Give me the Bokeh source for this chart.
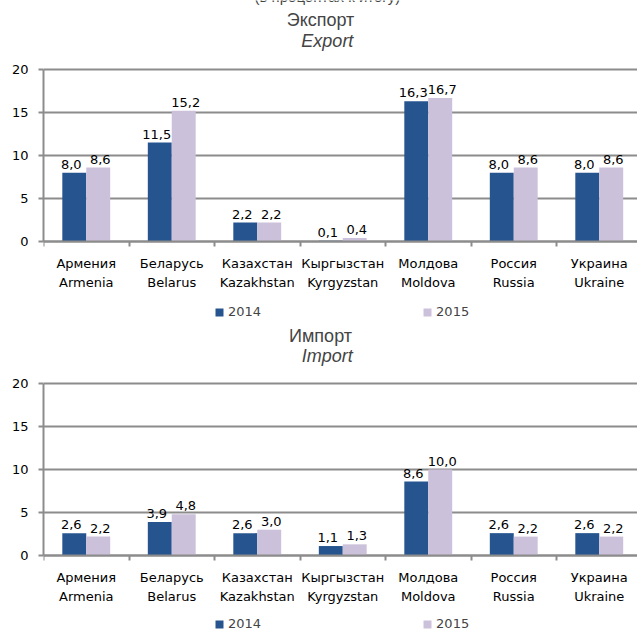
from bokeh.plotting import figure
from bokeh.models import ColumnDataSource, FixedTicker, Label, Legend, LegendItem, Range1d
from bokeh.layouts import column
from bokeh.embed import file_html
from bokeh.resources import INLINE

# ---- data ----
categories_ru = ["Армения", "Беларусь", "Казахстан", "Кыргызстан", "Молдова", "Россия", "Украина"]
categories_en = ["Armenia", "Belarus", "Kazakhstan", "Kyrgyzstan", "Moldova", "Russia", "Ukraine"]
years = ["2014", "2015"]
export_2014 = [8.0, 11.5, 2.2, 0.1, 16.3, 8.0, 8.0]
export_2015 = [8.6, 15.2, 2.2, 0.4, 16.7, 8.6, 8.6]
import_2014 = [2.6, 3.9, 2.6, 1.1, 8.6, 2.6, 2.6]
import_2015 = [2.2, 4.8, 3.0, 1.3, 10.0, 2.2, 2.2]
y_ticks = [0, 5, 10, 15, 20]
top_note = "(в процентах к итогу)"

# ---- style / layout ----
C14 = "#26548F"
C15 = "#CCC1DA"
GRID = "#8C8C8C"
LBL_FONT = "DejaVu Sans"
TTL_FONT = "Liberation Sans"
FS = "13px"

N = len(categories_ru)
PX = 8.6                 # pixels per value unit
X_MAX = 594 / 85.5       # frame clipped on the right as in the reference
BAR_W = 0.28


def fmt(v):
    return f"{v:.1f}".replace(".", ",")


def make_panel(title_ru, title_en, v14, v15, height, top_px, zero_px, legend_vy,
               ru_px, en_px, note=None):
    # top_px: pixels from figure top to the value 20 ; zero_px: pixels from figure top to value 0
    ymax = 20 + top_px / PX
    ymin = -(height - zero_px) / PX
    p = figure(width=637, height=height, output_backend="svg", toolbar_location=None,
               x_range=Range1d(0, X_MAX), y_range=Range1d(ymin, ymax),
               min_border_left=43, min_border_right=0, min_border_top=0,
               min_border_bottom=0)
    p.outline_line_color = None
    p.background_fill_color = "white"
    p.border_fill_color = "white"

    centers = [i + 0.5 for i in range(N)]
    x14 = [c - BAR_W / 2 for c in centers]
    x15 = [c + BAR_W / 2 for c in centers]
    s14 = ColumnDataSource(dict(x=x14, top=v14, lab=[fmt(v) for v in v14]))
    s15 = ColumnDataSource(dict(x=x15, top=v15, lab=[fmt(v) for v in v15]))

    r14 = p.vbar(x="x", top="top", bottom=0, width=BAR_W, source=s14, fill_color=C14, line_color=None)
    r15 = p.vbar(x="x", top="top", bottom=0, width=BAR_W, source=s15, fill_color=C15, line_color=None)

    for s, xo in ((s14, -3), (s15, 2)):
        p.text(x="x", y="top", text="lab", source=s, text_align="center",
               text_baseline="bottom", y_offset=-4, x_offset=xo, text_font_size=FS,
               text_color="black", text_font={"value": LBL_FONT})

    # y axis (only spans 0..20)
    p.yaxis.ticker = FixedTicker(ticks=y_ticks)
    p.yaxis.bounds = (0, 20)
    p.yaxis.axis_line_color = GRID
    p.yaxis.axis_line_width = 2
    p.yaxis.major_tick_line_color = GRID
    p.yaxis.major_tick_line_width = 2
    p.yaxis.major_tick_out = 5
    p.yaxis.major_tick_in = 0
    p.yaxis.minor_tick_line_color = None
    p.yaxis.major_label_standoff = 10
    p.yaxis.major_label_text_font = LBL_FONT
    p.yaxis.major_label_text_font_size = FS
    p.yaxis.major_label_text_color = "black"

    # x axis at value 0
    p.xaxis.fixed_location = 0
    p.xaxis.ticker = FixedTicker(ticks=centers, minor_ticks=list(range(N + 1)))
    p.xaxis.major_label_overrides = {c: f"{ru}\n{en}" for c, ru, en in zip(centers, categories_ru, categories_en)}
    p.xaxis.axis_line_color = GRID
    p.xaxis.axis_line_width = 2
    p.xaxis.major_tick_line_color = None
    p.xaxis.major_tick_out = 5
    p.xaxis.major_tick_in = 0
    p.xaxis.minor_tick_line_color = GRID
    p.xaxis.minor_tick_line_width = 2
    p.xaxis.minor_tick_out = 5
    p.xaxis.minor_tick_in = 0
    p.xaxis.major_label_standoff = 9
    p.xaxis.major_label_text_font = LBL_FONT
    p.xaxis.major_label_text_font_size = FS
    p.xaxis.major_label_text_color = "black"
    p.xaxis.major_label_text_line_height = 1.3

    p.xgrid.visible = False
    p.ygrid.ticker = FixedTicker(ticks=y_ticks)
    p.ygrid.grid_line_color = GRID
    p.ygrid.grid_line_width = 2

    if note:
        p.add_layout(Label(x=3.32, y=ymax + 4 / PX, text=note, text_align="center",
                           text_baseline="alphabetic", text_font=TTL_FONT, text_font_size="15px"))
    p.add_layout(Label(x=3.24, y=ymax - ru_px / PX, text=title_ru, text_align="center",
                       text_baseline="middle", text_font=TTL_FONT, text_font_size="18px"))
    p.add_layout(Label(x=3.32, y=ymax - en_px / PX, text=title_en, text_align="center",
                       text_baseline="middle", text_font=TTL_FONT, text_font_size="18px",
                       text_font_style="italic"))

    legend = Legend(items=[LegendItem(label=years[0], renderers=[r14]),
                           LegendItem(label=years[1], renderers=[r15])],
                    orientation="horizontal", location=(171, legend_vy),
                    spacing=161, glyph_width=10, glyph_height=10, label_standoff=4,
                    label_height=10, label_text_font=LBL_FONT, label_text_font_size=FS,
                    padding=0, margin=0, border_line_color=None, background_fill_alpha=0)
    p.add_layout(legend, "center")
    return p


# export panel: page rows 0..326, value 20 at row 69, value 0 at row 241
p1 = make_panel("Экспорт", "Export", export_2014, export_2015, 326, 69, 241, 7, 19, 40, note=top_note)
# import panel: page rows 326..633, value 20 at row 383, value 0 at row 555
p2 = make_panel("Импорт", "Import", import_2014, import_2015, 307, 383 - 326, 555 - 326, 2,
                335 - 326, 355 - 326)

layout = column(p1, p2, spacing=0)
open("out.html", "w").write(file_html(layout, INLINE))
